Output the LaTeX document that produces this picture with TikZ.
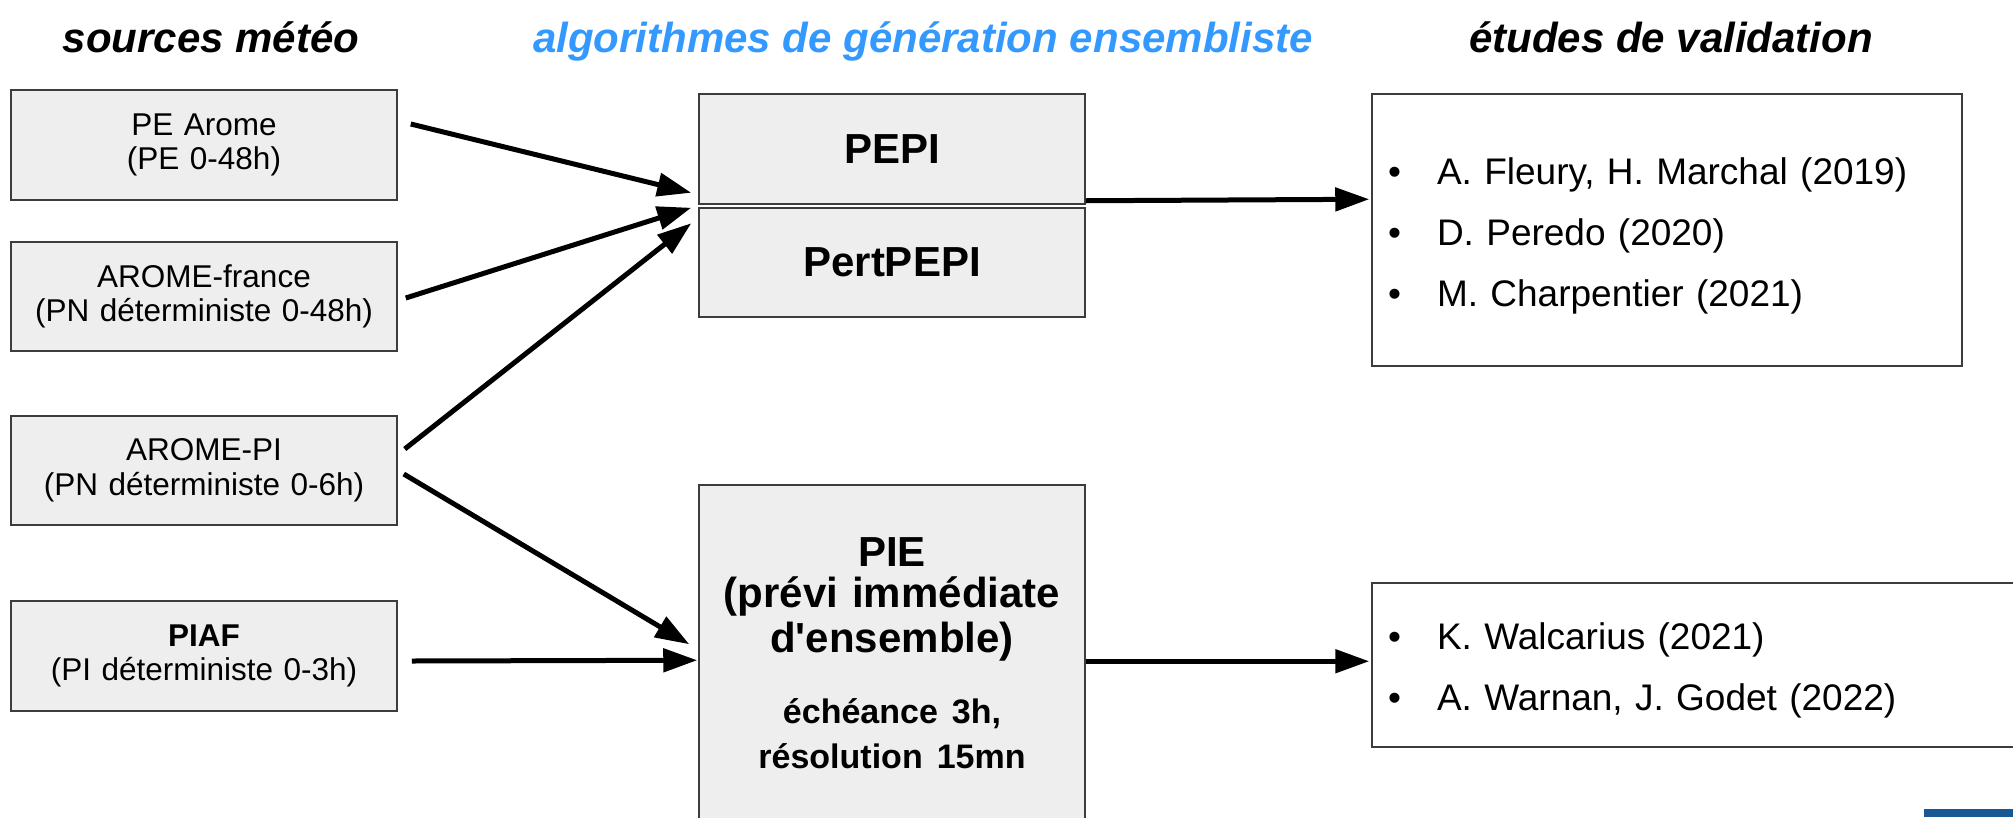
\documentclass[tikz,border=0pt]{standalone}
\usepackage{fontspec}
\setmainfont{Liberation Sans}
\usetikzlibrary{arrows.meta}
\definecolor{boxfill}{RGB}{238,238,238}
\definecolor{boxline}{RGB}{60,60,60}
\definecolor{headblue}{RGB}{51,153,255}
\definecolor{barblue}{RGB}{24,88,148}
\newcommand\valbullet{\makebox[49pt][l]{•}}
\begin{document}
\begin{tikzpicture}[x=1pt,y=-1pt,
 srcbox/.style={draw=boxline, line width=1.5pt, fill=boxfill, minimum width=386pt, text width=386pt, align=center, inner sep=0pt, font=\fontsize{31.5}{34.5}\selectfont},
 algbox/.style={srcbox, font=\bfseries\fontsize{42}{45}\selectfont},
 valbox/.style={draw=boxline, line width=1.5pt, fill=white, inner xsep=16pt, inner ysep=0pt, align=left, font=\fontsize{37}{61}\selectfont},
 heading/.style={anchor=base, font=\bfseries\itshape\fontsize{42}{46}\selectfont},
 arr/.style={line width=5pt, -{Triangle[length=34pt,width=23pt]}}
]
\useasboundingbox (0,0) rectangle (2013,817);
\clip (0,0) rectangle (2013,817);
\fill[white] (0,0) rectangle (2013,817);

\node[heading] (h1) at (211,52) {sources météo};
\node[heading, text=headblue] (h2) at (923,52) {algorithmes de génération ensembliste};
\node[heading] (h3) at (1671,52) {études de validation};

\node[srcbox, minimum height=110pt] (b1) at (204,145) {PE Arome\\(PE 0-48h)};
\node[srcbox, minimum height=109pt] (b2) at (204,296.5) {AROME-france\\(PN déterministe 0-48h)};
\node[srcbox, minimum height=109pt] (b3) at (204,470.5) {AROME-PI\\(PN déterministe 0-6h)};
\node[srcbox, minimum height=110pt] (b4) at (204,656) {\textbf{PIAF}\\(PI déterministe 0-3h)};

\node[algbox, minimum height=110pt] (pepi) at (892,149) {PEPI};
\node[algbox, minimum height=109pt] (pertpepi) at (892,262.5) {PertPEPI};
\node[algbox, minimum height=337pt] (pie) at (892,653.5) {PIE\\[-4pt](prévi immédiate\\d\textquotesingle ensemble)\\[30pt]\fontsize{34}{41}\selectfont échéance 3h,\\résolution 15mn};

\node[valbox, text width=558pt, minimum width=590pt, minimum height=272pt] (v1) at (1667,230)
 {\rule{0pt}{38pt}\valbullet A. Fleury, H. Marchal (2019)\\\valbullet D. Peredo (2020)\\\valbullet M. Charpentier (2021)};
\node[valbox, text width=628pt, minimum width=660pt, minimum height=164pt] (v2) at (1702,665)
 {\rule{0pt}{38pt}\valbullet K. Walcarius (2021)\\\valbullet A. Warnan, J. Godet (2022)};

\draw[arr] ([shift={(13,-21)}]b1.east) -- ([shift={(-7,-12)}]pepi.south west);
\draw[arr] ([shift={(8,1.5)}]b2.east) -- ([shift={(-7,3)}]pepi.south west);
\draw[arr] ([shift={(7,-21.5)}]b3.east) -- ([shift={(-7,16)}]pertpepi.north west);
\draw[arr] ([shift={(6,3.5)}]b3.east) -- ([shift={(-9,160)}]pie.north west);
\draw[arr] ([shift={(14,5)}]b4.east) -- ([shift={(-1,176)}]pie.north west);
\draw[arr] ([shift={(0,-4)}]pepi.south east) -- ([shift={(-2,106)}]v1.north west);
\draw[arr] ([shift={(0,177)}]pie.north east) -- ([shift={(-2,79)}]v2.north west);

\fill[barblue] (1924,809) rectangle (2013,817);
\end{tikzpicture}
\end{document}
